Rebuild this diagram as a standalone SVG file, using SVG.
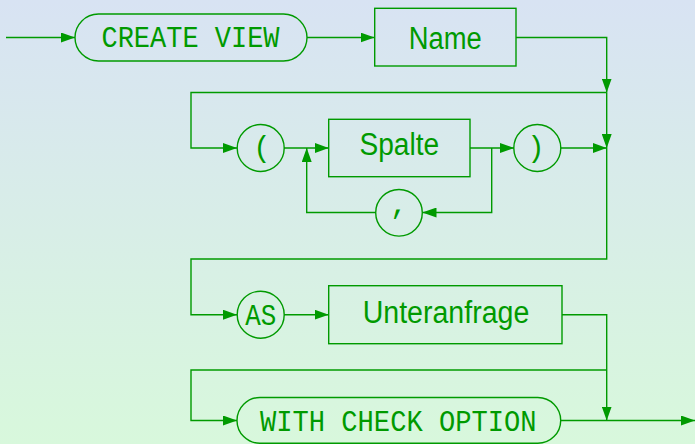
<svg xmlns="http://www.w3.org/2000/svg" width="695" height="444" viewBox="0 0 695 444">
<defs>
<linearGradient id="bg" x1="0" y1="0" x2="0" y2="1">
<stop offset="0" stop-color="#d8e3f3"/>
<stop offset="1" stop-color="#d8f8dc"/>
</linearGradient>
<marker id="a" viewBox="0 0 14 10" refX="14" refY="5" markerWidth="14" markerHeight="10" markerUnits="userSpaceOnUse" orient="auto">
<path d="M0,0 L14,5 L0,10 z" fill="#009a00"/>
</marker>
<style>
.s{fill:none;stroke:#009a00;stroke-width:1.4}
.c{fill:none;stroke:#009a00;stroke-width:1.4;marker-end:url(#a)}
.m{font-family:"Liberation Mono",monospace;font-size:29px;fill:#009a00;text-anchor:middle}
.t{font-family:"Liberation Sans",sans-serif;font-size:31px;fill:#009a00;text-anchor:middle}
</style>
</defs>
<rect width="695" height="444" fill="url(#bg)"/>
<g id="connectors">
<path class="c" d="M6,37.5 H75"/>
<path class="c" d="M307,37.5 H374.5"/>
<path class="c" d="M516,37.5 H606.7 V92.5"/>
<path class="c" d="M606.7,92.5 V148"/>
<path class="c" d="M606.7,92.5 H191 V148 H237"/>
<path class="c" d="M284,148 H328.7"/>
<path class="c" d="M470,148 H514"/>
<path class="c" d="M491.7,148 V212.5 H422.5"/>
<path class="c" d="M375.5,212.5 H306.7 V148"/>
<path class="c" d="M560.7,148 H606.7"/>
<path class="c" d="M606.7,148 V259 H191 V314.7 H237"/>
<path class="c" d="M284,314.7 H328.7"/>
<path class="c" d="M562,314.7 H606.7 V420.5"/>
<path class="c" d="M606.7,370 H191 V420.5 H237"/>
<path class="c" d="M560.7,420.5 H695"/>
</g>
<g id="create-view">
<rect class="s" x="75" y="14" width="232" height="47" rx="23.5"/>
<text class="m" x="190.5" y="47" textLength="178" lengthAdjust="spacingAndGlyphs">CREATE VIEW</text>
</g>
<g id="name">
<rect class="s" x="374.7" y="8.3" width="141.3" height="57.7"/>
<text class="t" x="445.3" y="49" textLength="73" lengthAdjust="spacingAndGlyphs">Name</text>
</g>
<g id="lparen">
<circle class="s" cx="260.7" cy="148" r="23.5"/>
<text class="m" x="262" y="157" font-size="26">(</text>
</g>
<g id="spalte">
<rect class="s" x="328.7" y="119.3" width="141.3" height="57.4"/>
<text class="t" x="399.3" y="155" textLength="79.7" lengthAdjust="spacingAndGlyphs">Spalte</text>
</g>
<g id="rparen">
<circle class="s" cx="537.3" cy="148" r="23.5"/>
<text class="m" x="536" y="157" font-size="26">)</text>
</g>
<g id="comma">
<circle class="s" cx="399" cy="212.8" r="23.3"/>
<text class="m" x="399" y="214">,</text>
</g>
<g id="as">
<circle class="s" cx="260.7" cy="314.7" r="23.5"/>
<text class="m" x="260.7" y="325" textLength="31" lengthAdjust="spacingAndGlyphs">AS</text>
</g>
<g id="unteranfrage">
<rect class="s" x="328.7" y="285.7" width="233.3" height="58"/>
<text class="t" x="446" y="323.3" textLength="166.7" lengthAdjust="spacingAndGlyphs">Unteranfrage</text>
</g>
<g id="with-check-option">
<rect class="s" x="237" y="397.5" width="323.7" height="45.8" rx="22.9"/>
<text class="m" x="398.3" y="431" textLength="276.7" lengthAdjust="spacingAndGlyphs">WITH CHECK OPTION</text>
</g>
</svg>
